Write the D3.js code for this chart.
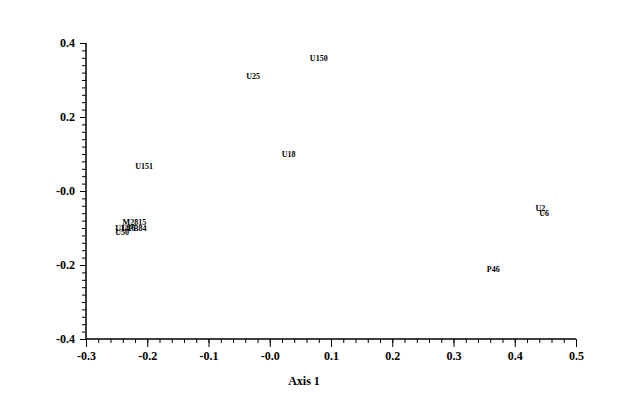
<!DOCTYPE html>
<html><head><meta charset="utf-8">
<script src="https://cdn.jsdelivr.net/npm/d3@7"></script>
<style>body{margin:0;background:#fff}svg{display:block}</style>
</head><body>
<svg id="c" width="624" height="413"></svg>
<script>
const labels = ["U150","U25","U18","U151","U2","U6","P46","M2815","U14","U16","PB84","U50"];
const xVals  = [0.080,-0.027,0.031,-0.205,0.442,0.448,0.365,-0.221,-0.241,-0.231,-0.216,-0.241];
const yVals  = [0.359,0.312,0.100,0.0676,-0.045,-0.059,-0.211,-0.084,-0.101,-0.100,-0.100,-0.111];
const xTicks = [-0.3,-0.2,-0.1,0.0,0.1,0.2,0.3,0.4,0.5];
const yTicks = [-0.4,-0.2,0.0,0.2,0.4];
const xTickLabels = ["-0.3","-0.2","-0.1","-0.0","0.1","0.2","0.3","0.4","0.5"];
const yTickLabels = ["-0.4","-0.2","-0.0","0.2","0.4"];
const xTitle = "Axis 1";

const svg = d3.select("#c");
const font = "'Liberation Serif','Times New Roman',serif";
const x = d3.scaleLinear().domain([-0.3,0.5]).range([86,576]);
const y = d3.scaleLinear().domain([-0.4,0.4]).range([339,43]);

const xMinor = d3.range(-0.3,0.5001,0.02);
const yMinor = d3.range(-0.4,0.4001,0.02);

const gx = svg.append("g").attr("transform","translate(0,339)");
gx.call(d3.axisBottom(x).tickValues(xMinor).tickSize(4).tickFormat(""));
gx.append("g").call(d3.axisBottom(x).tickValues(xTicks).tickSize(8).tickPadding(4)
  .tickFormat((d,i)=>xTickLabels[i]));

const gy = svg.append("g").attr("transform","translate(86,0)");
gy.call(d3.axisLeft(y).tickValues(yMinor).tickSize(4).tickFormat(""));
gy.append("g").call(d3.axisLeft(y).tickValues(yTicks).tickSize(6).tickPadding(5)
  .tickFormat((d,i)=>yTickLabels[i]));

svg.selectAll(".tick text").attr("font-family",font).attr("font-weight","bold")
  .attr("font-size",12).attr("fill","#000");
svg.selectAll(".tick line, .domain").attr("stroke","#000").attr("stroke-width",1);
gx.selectAll(".domain").attr("d",`M${x(-0.3)},0H${x(0.5)}`);
gy.selectAll(".domain").attr("d",`M0,${y(-0.4)}V${y(0.4)}`);

svg.append("text").attr("x",304).attr("y",385).attr("text-anchor","middle")
  .attr("font-family",font).attr("font-weight","bold").attr("font-size",12).text(xTitle);

svg.append("g").selectAll("text").data(labels).join("text")
  .attr("x",(d,i)=>x(xVals[i])).attr("y",(d,i)=>y(yVals[i])+3)
  .attr("text-anchor","middle").attr("font-family",font).attr("font-weight","bold")
  .attr("font-size",8).attr("fill","#000").text(d=>d);
</script>
</body></html>
